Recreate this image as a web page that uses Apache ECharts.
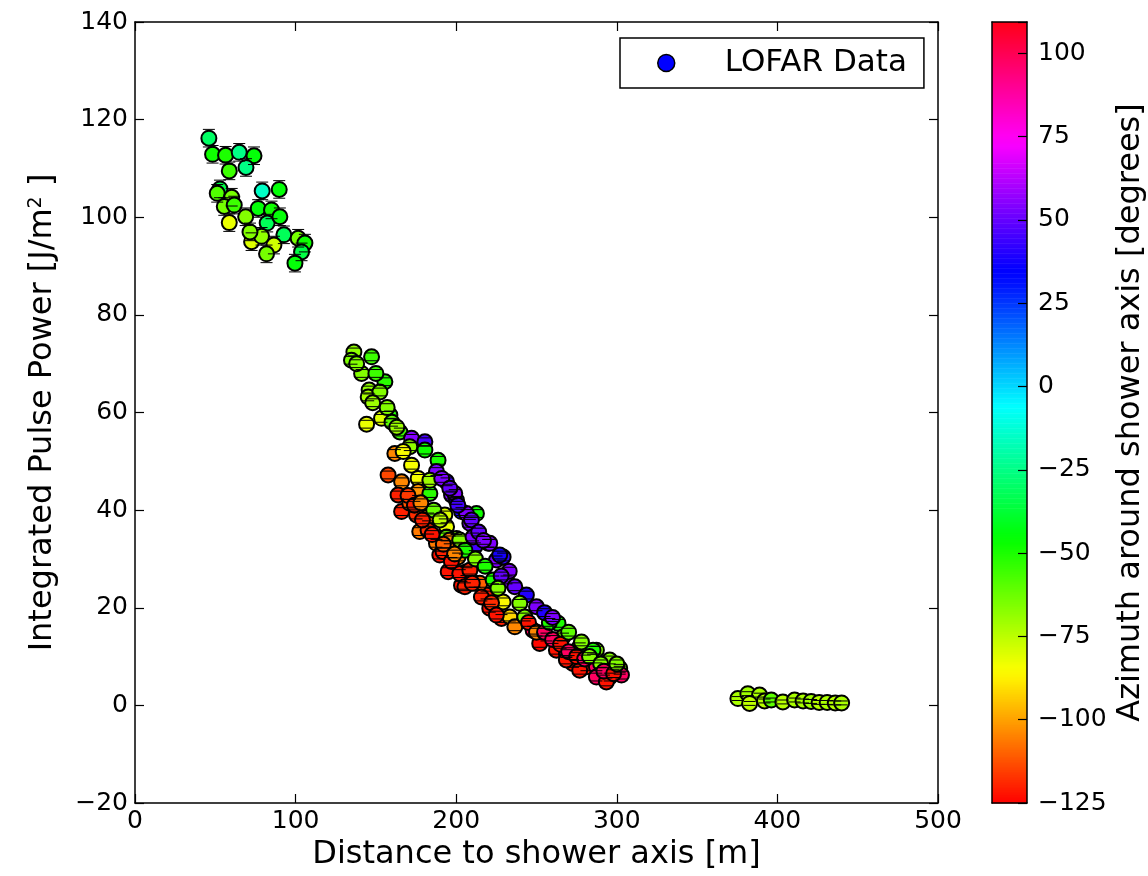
<!DOCTYPE html>
<html>
<head>
<meta charset="utf-8">
<script src="https://cdn.jsdelivr.net/npm/echarts@6/dist/echarts.min.js"></script>
<style>
html,body{margin:0;padding:0;background:#fff;}
#chart{width:1148px;height:876px;}
</style>
</head>
<body>
<div id="chart"></div>
<script>
// ---------------- data ----------------
// Cluster near the core (distance m, power J/m^2, azimuth deg)
const nearDist  = [46.0,48.3,56.4,64.9,74.1,69.1,58.7,52.9,51.2,60.2,79.2,89.8,55.6,61.8,76.7,85.0,58.7,68.9,82.3,90.2,72.6,78.8,92.7,86.5,81.9,101.6,105.8,103.7,99.6,71.6];
const nearPower = [116.2,112.9,112.7,113.3,112.6,110.2,109.5,105.8,104.9,104.1,105.4,105.7,102.2,102.5,101.8,101.5,98.9,100.1,98.8,100.1,95.0,96.1,96.4,94.3,92.5,95.7,94.7,92.9,90.6,97.0];
const nearAzim  = [-30,-48,-50,-25,-45,-25,-55,-35,-58,-64,-15,-45,-64,-55,-45,-48,-82,-66,-32,-45,-80,-68,-32,-78,-64,-64,-48,-35,-45,-66];
const nearErr = 1.8;

// Main band
const bandDist  = [136.3,134.8,147.3,141.1,155.6,145.8,145.2,152.5,158.7,153.5,144.2,164.9,172.2,180.5,161.8,171.1,180.5,188.7,172.2,187.7,194.0,157.6,166.0,176.3,176.3,163.8,197.1,183.6,166.0,175.3,182.5,203.3,212.6,208.5,194.0,177.3,182.5,200.2,187.7,219.9,211.6,189.8,201.2,225.1,195.0,206.4,211.6,203.3,218.9,183.6,200.2,171.1,229.2,194.0,199.1,206.4,209.5,192.9,196.0,191.8,202.2,210.5,220.9,227.1,205.4,202.2,208.5,214.7,205.4,215.7,220.9,228.2,229.2,223.0,231.3,236.5,243.7,250.0,239.6,233.4,236.5,242.7,263.4,247.9,256.2,266.5,252.0,262.4,268.6,276.9,287.3,272.7,281.1,287.3,295.6,301.8,285.2,301.8,268.6,276.9,287.3,295.6,302.9,293.5,
  138.0,150.0,148.0,157.0,160.0,163.0,167.0,191.0,196.0,201.0,186.0,190.0,214.0,217.0,212.0,218.0,233.0,228.0,226.0,170.0,174.0,179.0,185.0,192.0,197.0,199.0,210.0,222.0,225.0,178.0,245.0,250.0,255.0,260.0,265.0,270.0,275.0,280.0,283.0,290.0,292.0,298.0,300.0,258.0,270.0,278.0,255.0,260.0];
const bandPower = [72.4,70.7,71.4,68.0,66.3,64.6,63.2,64.2,59.5,58.8,57.6,56.0,54.7,54.0,51.6,53.0,52.3,50.2,49.2,47.9,45.8,47.2,45.8,46.5,43.8,43.1,43.1,43.4,39.7,39.0,38.6,39.7,39.3,37.3,36.6,35.6,35.9,34.2,33.2,33.2,32.5,30.8,30.4,29.8,27.4,27.4,25.0,24.6,22.6,46.1,42.0,41.4,30.4,34.5,43.4,39.3,38.0,39.0,33.9,31.5,33.9,34.5,33.2,30.8,31.8,27.0,27.7,25.0,24.3,22.2,19.9,17.8,21.2,25.7,25.7,24.3,22.6,20.2,20.9,18.1,16.1,18.1,16.8,15.4,14.0,14.0,12.7,11.3,10.6,12.0,11.3,8.6,7.9,7.9,9.3,7.2,11.3,7.6,9.3,7.2,5.8,5.8,6.2,4.8,
  70.0,68.0,62.0,61.0,58.0,57.0,52.0,46.5,44.5,41.0,40.0,38.0,35.5,33.8,30.0,28.5,27.5,26.5,24.0,43.0,41.0,38.0,35.0,33.0,29.5,31.0,25.0,21.0,18.5,41.5,17.0,15.0,15.0,13.5,12.5,11.0,10.0,9.5,10.0,8.5,7.0,6.5,8.5,17.0,15.0,13.0,19.0,18.0];
const bandAzim  = [-68,-65,-55,-66,-52,-68,-72,-66,-50,-80,-82,-55,55,46,-104,-68,-48,-50,-84,54,45,-114,-104,-84,-102,-120,54,-52,-120,-118,-104,38,-48,54,-82,-106,-118,-66,-106,54,45,-122,-104,54,-122,-120,-108,-122,-120,-70,38,-112,42,-62,54,54,50,-80,-104,-120,-66,54,54,38,-50,-122,-120,-110,-120,-120,-122,-120,-86,-50,54,50,40,54,-66,-92,-104,-66,-50,98,98,-66,-124,-122,98,-50,-66,-122,-122,98,-66,98,-50,-66,-122,-122,98,-122,98,-122,
  -66,-55,-70,-66,-60,-70,-85,54,50,45,-62,-75,50,54,-66,-50,54,50,-66,-116,-120,-120,-122,-110,-122,-104,-120,-118,-122,-104,-122,-104,98,98,-122,98,-122,98,-66,-66,98,-122,-66,-50,-60,-66,40,54];
const bandErr = 0.8;

// Far cluster
const farDist  = [375.4,381.6,388.9,382.7,392.0,396.2,403.4,410.7,416.0,421.0,426.0,431.0,436.0,440.0];
const farPower = [1.4,2.4,2.1,0.4,0.9,1.1,0.7,1.1,0.9,0.8,0.6,0.6,0.5,0.5];
const farAzim  = [-72,-70,-72,-75,-74,-60,-74,-72,-72,-70,-74,-72,-74,-72];
const farErr = 0.4;

// Axis ticks / ranges
const xTicks = {min: 0, max: 500, step: 100};
const yTicks = {min: -20, max: 140, step: 20};
const cbRange = {min: -125, max: 109.4, step: 25};

// ---------------- matplotlib "hsv" colormap ----------------
const cmR = [[0,1],[0.15873,1],[0.174603,0.96875],[0.333333,0.03125],[0.349206,0],[0.666667,0],[0.68254,0],[0.84127,0.96875],[0.857143,1],[1,1]];
const cmG = [[0,0],[0.15873,0.9375],[0.174603,1],[0.507937,1],[0.666667,0.0625],[0.68254,0],[1,0]];
const cmB = [[0,0],[0.333333,0],[0.349206,0.0625],[0.507937,1],[0.84127,1],[0.857143,0.9375],[1,0.09375]];
function seg(a, t){
  for (let i = 1; i < a.length; i++){
    if (t <= a[i][0]){
      const f = (t - a[i-1][0]) / (a[i][0] - a[i-1][0]);
      return a[i-1][1] + f * (a[i][1] - a[i-1][1]);
    }
  }
  return a[a.length-1][1];
}
function cmap(v){
  let t = (v - cbRange.min) / (cbRange.max - cbRange.min);
  t = Math.max(0, Math.min(1, t));
  const r = Math.round(255*seg(cmR,t)), g = Math.round(255*seg(cmG,t)), b = Math.round(255*seg(cmB,t));
  return 'rgb(' + r + ',' + g + ',' + b + ')';
}

// ---------------- build series data ----------------
const points = [];
function addCluster(d, p, a, e){ for (let i = 0; i < d.length; i++) points.push([d[i], p[i], a[i], e]); }
addCluster(nearDist, nearPower, nearAzim, nearErr);
addCluster(bandDist, bandPower, bandAzim, bandErr);
addCluster(farDist, farPower, farAzim, farErr);

const cbSlices = [];
for (let v = cbRange.min; v < cbRange.max; v += 0.5) cbSlices.push([v, Math.min(v + 0.5, cbRange.max)]);

const FF = 'DejaVu Sans';
const minus = v => String(v).replace('-', '\u2212');
const spine = {show: true, onZero: false, lineStyle: {color: '#000', width: 1.5}};
const tick = {show: true, inside: true, length: 9, lineStyle: {color: '#000', width: 1.2}};

const chart = echarts.init(document.getElementById('chart'), null, {renderer: 'canvas'});
chart.setOption({
  animation: false,
  backgroundColor: '#fff',
  textStyle: {fontFamily: FF, color: '#000'},
  grid: [
    {left: 135, top: 22, width: 803, height: 781},
    {left: 992, top: 22, width: 39, height: 781}
  ],
  legend: {
    data: [{name: 'LOFAR Data', icon: 'circle', itemStyle: {color: '#0000ff', borderColor: '#000', borderWidth: 1.5}}],
    left: 620, top: 38,
    itemWidth: 17, itemHeight: 17,
    padding: [9, 17, 9, 37],
    borderColor: '#000', borderWidth: 1.5, borderRadius: 0,
    backgroundColor: '#fff',
    selectedMode: false,
    formatter: name => '{s|\u00a0}' + name,
    textStyle: {fontSize: 31, color: '#000', fontFamily: FF, lineHeight: 32, rich: {s: {width: 45, fontSize: 31}}}
  },
  xAxis: [
    {type: 'value', gridIndex: 0, position: 'bottom', min: xTicks.min, max: xTicks.max, interval: xTicks.step,
     axisLine: spine, axisTick: tick, splitLine: {show: false},
     axisLabel: {fontSize: 25, color: '#000', fontFamily: FF, margin: 6, formatter: minus},
     name: 'Distance to shower axis [m]', nameLocation: 'middle', nameGap: 33,
     nameTextStyle: {fontSize: 32, color: '#000', fontFamily: FF}},
    {type: 'value', gridIndex: 0, position: 'top', min: xTicks.min, max: xTicks.max, interval: xTicks.step,
     axisLine: spine, axisTick: tick, splitLine: {show: false}, axisLabel: {show: false}},
    {type: 'value', gridIndex: 1, position: 'bottom', min: 0, max: 1, z: 10,
     axisLine: spine, axisTick: {show: false}, splitLine: {show: false}, axisLabel: {show: false}},
    {type: 'value', gridIndex: 1, position: 'top', min: 0, max: 1, z: 10,
     axisLine: spine, axisTick: {show: false}, splitLine: {show: false}, axisLabel: {show: false}}
  ],
  yAxis: [
    {type: 'value', gridIndex: 0, position: 'left', min: yTicks.min, max: yTicks.max, interval: yTicks.step,
     axisLine: spine, axisTick: tick, splitLine: {show: false},
     axisLabel: {fontSize: 25, color: '#000', fontFamily: FF, margin: 7, formatter: minus},
     name: 'Integrated Pulse Power [J/m{sup|2} ]', nameLocation: 'middle', nameGap: 76,
     nameTextStyle: {fontSize: 32, color: '#000', fontFamily: FF, rich: {sup: {fontSize: 19, verticalAlign: 'top', fontFamily: FF, color: '#000'}}}},
    {type: 'value', gridIndex: 0, position: 'right', min: yTicks.min, max: yTicks.max, interval: yTicks.step,
     axisLine: spine, axisTick: tick, splitLine: {show: false}, axisLabel: {show: false}},
    {type: 'value', gridIndex: 1, position: 'right', min: cbRange.min, max: cbRange.max, interval: cbRange.step, z: 10,
     axisLine: spine, axisTick: tick, splitLine: {show: false},
     axisLabel: {fontSize: 25, color: '#000', fontFamily: FF, margin: 11,
                 formatter: v => (Math.abs(v % cbRange.step) < 1e-6 ? minus(v) : '')},
     name: 'Azimuth around shower axis [degrees]', nameLocation: 'middle', nameGap: 88,
     nameTextStyle: {fontSize: 32, color: '#000', fontFamily: FF}},
    {type: 'value', gridIndex: 1, position: 'left', min: cbRange.min, max: cbRange.max, z: 10,
     axisLine: spine, axisTick: {show: false}, splitLine: {show: false}, axisLabel: {show: false}}
  ],
  series: [
    {
      name: 'LOFAR Data', type: 'scatter', xAxisIndex: 0, yAxisIndex: 0, z: 2,
      symbol: 'circle', symbolSize: 15,
      data: points.map(p => [p[0], p[1], p[2]]),
      itemStyle: {color: params => cmap(params.value[2]), borderColor: '#000', borderWidth: 2, opacity: 1},
      emphasis: {disabled: true}
    },
    {
      name: 'errors', type: 'custom', xAxisIndex: 0, yAxisIndex: 0, z: 3, silent: true,
      data: points.map(p => [p[0], p[1], p[3]]),
      renderItem: (params, api) => {
        const x = api.value(0), y = api.value(1), e = api.value(2);
        const hi = api.coord([x, y + e]), lo = api.coord([x, y - e]);
        const w = 6;
        const st = {stroke: '#000', lineWidth: 1};
        return {type: 'group', children: [
          {type: 'line', shape: {x1: hi[0]-w, y1: hi[1], x2: hi[0]+w, y2: hi[1]}, style: st},
          {type: 'line', shape: {x1: lo[0]-w, y1: lo[1], x2: lo[0]+w, y2: lo[1]}, style: st}
        ]};
      }
    },
    {
      name: 'colorbar', type: 'custom', xAxisIndex: 2, yAxisIndex: 2, z: 1, silent: true,
      data: cbSlices,
      renderItem: (params, api) => {
        const v0 = api.value(0), v1 = api.value(1);
        const a = api.coord([0, v0]), b = api.coord([1, v1]);
        return {type: 'rect', shape: {x: a[0], y: b[1], width: b[0]-a[0], height: a[1]-b[1] + 0.6},
                style: {fill: cmap((v0+v1)/2)}};
      }
    }
  ]
});
</script>
</body>
</html>
